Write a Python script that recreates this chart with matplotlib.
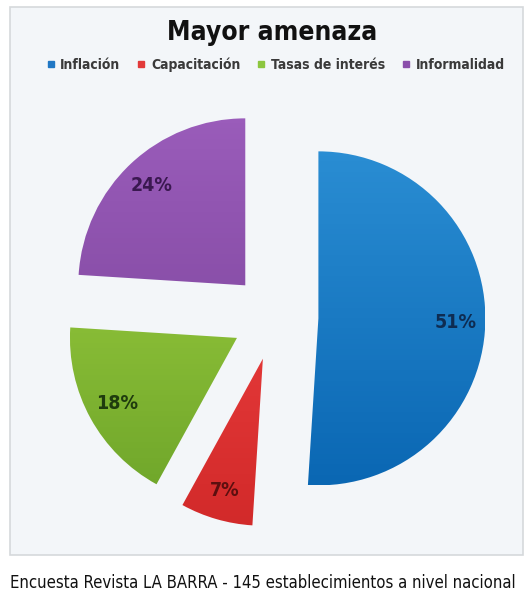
import matplotlib.pyplot as plt
import numpy as np
from matplotlib.colors import to_rgb
from matplotlib.patches import Rectangle
from matplotlib.lines import Line2D

# survey shares, in the order they go round the pie (clockwise from 12 o'clock)
categories = ['Inflación', 'Capacitación', 'Tasas de interés', 'Informalidad']
shares = [51, 7, 18, 24]
top_colors = ['#2a8dd3', '#f24444', '#9fd040', '#9a5cba']
bottom_colors = ['#0a67b3', '#d22a2a', '#6ea52a', '#7a4399']
legend_colors = ['#1f77c4', '#e23a3a', '#8cc63f', '#8a4fab']
label_colors = ['#0e2c52', '#5c0f0f', '#1f3b0e', '#3a1850']

narrow = ['Liberation Sans Narrow', 'DejaVu Sans']

fig = plt.figure(figsize=(5.28, 5.99), dpi=100)
fig.patch.set_facecolor('white')

ax = fig.add_axes([0, 0, 1, 1])
ax.set_facecolor('none')

# 1 data unit = 167 px, pie centre at (275, 317) px
x0, x1 = -275 / 167, 253 / 167
y0, y1 = -282 / 167, 317 / 167


def px(x, y):
    return x0 + x / 167, y1 - y / 167


# light panel behind the chart
ax.add_patch(Rectangle(px(10, 555), 513 / 167, 548 / 167, facecolor='#f3f6f9',
                       edgecolor='#d6d9dc', linewidth=1.2, zorder=0))

wedges, texts, autotexts = ax.pie(
    shares, startangle=90, counterclock=False,
    explode=[0.26] * 4, autopct='%d%%', pctdistance=0.82,
    colors=legend_colors, wedgeprops=dict(linewidth=0, zorder=1))

# vertical gradient inside each wedge
for w, c1, c2 in zip(wedges, top_colors, bottom_colors):
    cx, cy, r = w.center[0], w.center[1], w.r
    t = np.linspace(0, 1, 64)[:, None]
    grad = (np.array(to_rgb(c1)) * (1 - t) + np.array(to_rgb(c2)) * t)[:, None, :]
    im = ax.imshow(grad, extent=[cx - r, cx + r, cy - r, cy + r],
                   origin='upper', aspect='auto', zorder=2)
    im.set_clip_path(w)
    w.set_facecolor('none')

for t, c in zip(autotexts, label_colors):
    t.set_color(c)
    t.set_fontfamily(narrow)
    t.set_fontstretch('condensed')
    t.set_fontweight('bold')
    t.set_fontsize(14)
    t.set_zorder(3)

ax.set_xlim(x0, x1)
ax.set_ylim(y0, y1)
ax.set_aspect('auto')
ax.axis('off')

fig.text(272 / 528, 1 - 33 / 599, 'Mayor amenaza', ha='center', va='center',
         fontsize=19, fontweight='bold', family=narrow, fontstretch='condensed',
         color='#111111')

handles = [Line2D([], [], marker='s', linestyle='none', markersize=5,
                  markerfacecolor=c, markeredgecolor=c) for c in legend_colors]
leg = fig.legend(handles, categories, loc='center', ncol=4,
                 bbox_to_anchor=(275 / 528, 1 - 65 / 599), frameon=False,
                 handlelength=0.8, handletextpad=0.3, columnspacing=1.1,
                 prop=dict(family=narrow, weight='bold', size=10,
                           stretch='condensed'))
for txt in leg.get_texts():
    txt.set_color('#3a3a3a')

fig.text(10 / 528, 1 - 583 / 599,
         'Encuesta Revista LA BARRA - 145 establecimientos a nivel nacional',
         ha='left', va='center', fontsize=12, family=narrow,
         fontstretch='condensed', color='#111111')

fig.savefig('out.png', dpi=100)
